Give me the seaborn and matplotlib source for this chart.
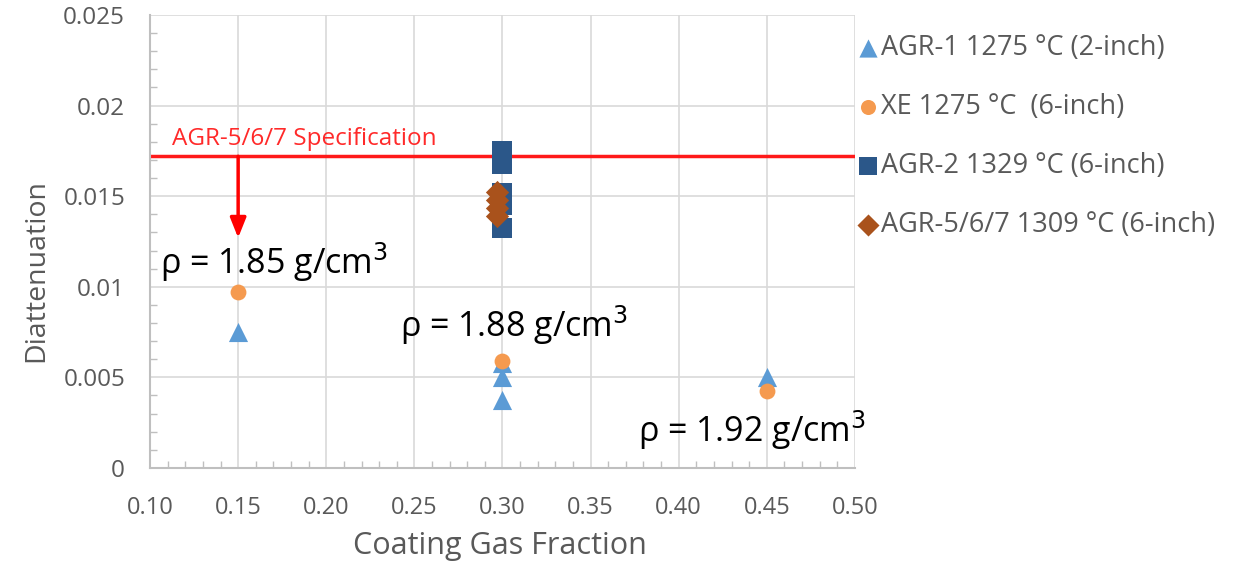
import numpy as np
import pandas as pd
import matplotlib
matplotlib.use("Agg")
import matplotlib.pyplot as plt
import seaborn as sns

# ---- data ----
series_names = ["AGR-1 1275 °C (2-inch)", "XE 1275 °C  (6-inch)",
                "AGR-2 1329 °C (6-inch)", "AGR-5/6/7 1309 °C (6-inch)"]
agr1_x = [0.15, 0.30, 0.30, 0.30, 0.45]
agr1_y = [0.0075, 0.0058, 0.0050, 0.00375, 0.0050]
xe_x = [0.15, 0.30, 0.45]
xe_y = [0.0097, 0.0059, 0.00427]
agr2_x = [0.30, 0.30, 0.30, 0.30, 0.30]
agr2_y = [0.01747, 0.01675, 0.0152, 0.0145, 0.01327]
agr567_x = [0.297, 0.297, 0.297, 0.297]
agr567_y = [0.01523, 0.01479, 0.01435, 0.0139]
spec_value = 0.0172
arrow_x = 0.15
arrow_end = 0.0127
density_labels = ["ρ = 1.85 g/cm$^3$", "ρ = 1.88 g/cm$^3$", "ρ = 1.92 g/cm$^3$"]
density_x = [0.1057, 0.2418, 0.3769]
density_y = [0.01137, 0.00789, 0.0021]
x_ticks = [0.10, 0.15, 0.20, 0.25, 0.30, 0.35, 0.40, 0.45, 0.50]
y_ticks = [0, 0.005, 0.01, 0.015, 0.02, 0.025]
y_ticklabels = ["0", "0.005", "0.01", "0.015", "0.02", "0.025"]

df = pd.DataFrame({
    "x": agr1_x + xe_x + agr2_x + agr567_x,
    "y": agr1_y + xe_y + agr2_y + agr567_y,
    "series": [series_names[0]] * len(agr1_x) + [series_names[1]] * len(xe_x)
              + [series_names[2]] * len(agr2_x) + [series_names[3]] * len(agr567_x),
})

sns.set_theme(style="white")
plt.rcParams['font.family'] = ['Open Sans', 'DejaVu Sans']

gray = "#595959"
palette = {series_names[0]: "#5B9BD5", series_names[1]: "#F59A4F",
           series_names[2]: "#2B5789", series_names[3]: "#A9521C"}
markers = {series_names[0]: "^", series_names[1]: "o",
           series_names[2]: "s", series_names[3]: "D"}
sizes = {series_names[0]: 190, series_names[1]: 130,
         series_names[2]: 190, series_names[3]: 140}

fig = plt.figure(figsize=(12.41, 5.70), dpi=100)
ax = fig.add_axes([0.1209, 0.179, 0.568, 0.7947])

for name in series_names:
    sub = df[df["series"] == name]
    sns.scatterplot(data=sub, x="x", y="y", ax=ax, color=palette[name],
                    marker=markers[name], s=sizes[name], linewidth=0,
                    label=name, zorder=3)

ax.set_xlim(0.10, 0.50)
ax.set_ylim(0, 0.025)
ax.set_xticks(x_ticks)
ax.set_xticklabels([f"{v:.2f}" for v in x_ticks])
ax.set_yticks(y_ticks)
ax.set_yticklabels(y_ticklabels)
ax.set_xticks(np.arange(0.10, 0.5001, 0.01), minor=True)
ax.set_yticks(np.arange(0, 0.02501, 0.001), minor=True)
ax.grid(True, which="major", color="#d9d9d9", linewidth=1.2)
ax.tick_params(axis="x", which="major", length=0, labelsize=17,
               labelcolor=gray, pad=20)
ax.tick_params(axis="y", which="major", length=0, labelsize=17.5,
               labelcolor=gray, pad=18)
ax.tick_params(axis="x", which="minor", direction="in", length=5,
               color="#bfbfbf", width=1, bottom=True)
ax.tick_params(axis="y", which="minor", direction="in", length=5,
               color="#bfbfbf", width=1, left=True)
for s in ["top", "right"]:
    ax.spines[s].set_visible(False)
for s in ["left", "bottom"]:
    ax.spines[s].set_color("#bfbfbf")
    ax.spines[s].set_linewidth(1.5)

ax.set_xlabel("Coating Gas Fraction", fontsize=22, color=gray)
ax.xaxis.set_label_coords(0.496, -0.14)
ax.set_ylabel("Diattenuation", fontsize=20.5, color=gray)
ax.yaxis.set_label_coords(-0.142, 0.437)

# spec line and arrow
ax.axhline(spec_value, color="#FF1A1A", linewidth=2.5, zorder=2)
ax.text(0.1125, spec_value + 0.0003, "AGR-5/6/7 Specification", color="#FF2A2A",
        fontsize=17.5, va="bottom", ha="left")
ax.annotate("", xy=(arrow_x, arrow_end), xytext=(arrow_x, spec_value),
            arrowprops=dict(arrowstyle="-|>,head_width=0.4,head_length=1.0",
                            color="#FF0000", lw=2.5, shrinkA=0, shrinkB=0))

for lab, xx, yy in zip(density_labels, density_x, density_y):
    ax.text(xx, yy, lab, fontsize=24.5, color="black", ha="left", va="center")

ax.legend(loc="upper left", bbox_to_anchor=(1.003, 0.958), frameon=False,
          fontsize=19.5, labelcolor=gray, handlelength=0.8, handletextpad=0.1,
          labelspacing=1.14, markerscale=0.95, borderaxespad=0, borderpad=0)

fig.savefig("out.png", dpi=100)
